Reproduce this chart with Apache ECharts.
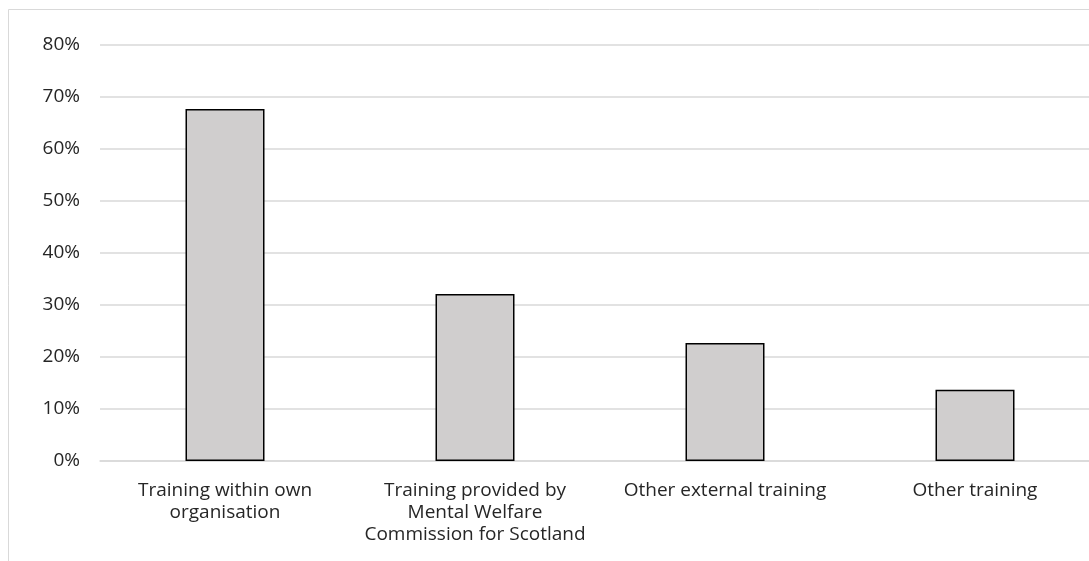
<!DOCTYPE html>
<html>
<head>
<meta charset="utf-8">
<script src="https://cdn.jsdelivr.net/npm/echarts@6/dist/echarts.min.js"></script>
<style>
  html, body { margin: 0; padding: 0; background: #fff; }
  #chart { width: 1089px; height: 561px; }
</style>
</head>
<body>
<div id="chart"></div>
<script>
// Training sources and the share of respondents for each
const categories = [
  'Training within own\norganisation',
  'Training provided by\nMental Welfare\nCommission for Scotland',
  'Other external training',
  'Other training'
];
const shares = [67.7, 32.1, 22.7, 13.7];
const yTicks = [0, 10, 20, 30, 40, 50, 60, 70, 80];

const fontFamily = '"Open Sans", "Noto Sans", sans-serif';
const chart = echarts.init(document.getElementById('chart'));

chart.setOption({
  animation: false,
  backgroundColor: '#ffffff',
  graphic: [{
    type: 'rect',
    shape: { x: 8.5, y: 9.5, width: 1200, height: 700 },
    style: { fill: 'none', stroke: '#d9d9d9', lineWidth: 1 },
    silent: true,
    z: -10
  }],
  // plot area runs past the right edge of the canvas
  grid: { left: 100, width: 1000, top: 45, height: 416, outerBoundsMode: 'none', containLabel: false },
  xAxis: {
    type: 'category',
    data: categories,
    axisLine: { show: true, lineStyle: { color: '#d9d9d9', width: 1.5 } },
    axisTick: { show: false },
    axisLabel: {
      interval: 0,
      color: '#262626',
      fontFamily: fontFamily,
      fontSize: 19,
      lineHeight: 22,
      margin: 19
    }
  },
  yAxis: {
    type: 'value',
    min: yTicks[0],
    max: yTicks[yTicks.length - 1],
    interval: 10,
    axisLine: { show: false },
    axisTick: { show: false },
    splitLine: { lineStyle: { color: '#d9d9d9', width: 1.5 } },
    axisLabel: {
      color: '#262626',
      fontFamily: fontFamily,
      fontSize: 19,
      margin: 20,
      formatter: v => v + '%'
    }
  },
  series: [{
    type: 'bar',
    data: shares,
    barWidth: 79,
    itemStyle: { color: '#d0cece', borderColor: '#000000', borderWidth: 1.5 }
  }]
});
</script>
</body>
</html>
